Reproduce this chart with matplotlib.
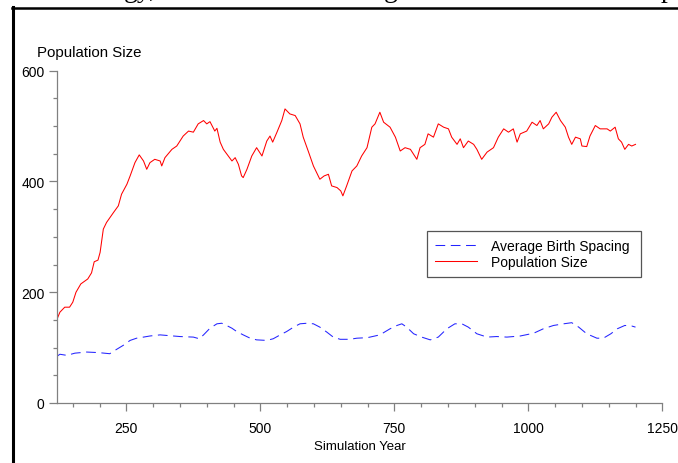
import matplotlib
matplotlib.use("Agg")
import matplotlib.pyplot as plt
from matplotlib.lines import Line2D
from matplotlib.ticker import MultipleLocator

# ---------------- data ----------------
red_years = [120, 126, 135, 144, 150, 156, 165, 178, 185, 190,
             197, 201, 207, 213, 226, 235, 241, 251, 257, 266,
             274, 282, 288, 294, 303, 313, 316, 322, 335, 344,
             356, 366, 375, 384, 394, 400, 406, 415, 419, 425,
             431, 440, 447, 453, 459, 465, 468, 475, 484, 493,
             503, 512, 518, 523, 531, 540, 546, 555, 565, 574,
             580, 590, 599, 611, 619, 627, 633, 643, 650, 654,
             661, 671, 680, 689, 699, 708, 714, 723, 730, 742,
             752, 761, 770, 780, 792, 798, 807, 813, 823, 832,
             842, 851, 857, 867, 873, 879, 888, 898, 904, 913,
             923, 935, 944, 954, 963, 972, 979, 985, 997, 1007,
             1016, 1022, 1028, 1038, 1044, 1052, 1060, 1069, 1075, 1081,
             1088, 1097, 1100, 1109, 1115, 1125, 1134, 1147, 1153, 1162,
             1168, 1174, 1180, 1187, 1193, 1200]
population_size = [150, 164, 173, 173, 182, 200, 215, 224, 235, 255,
                   258, 272, 314, 326, 344, 356, 377, 395, 410, 434,
                   448, 437, 422, 434, 440, 437, 428, 443, 458, 464,
                   482, 491, 489, 504, 510, 504, 508, 491, 496, 471,
                   458, 446, 437, 443, 431, 410, 407, 422, 446, 461,
                   446, 473, 482, 471, 489, 510, 531, 522, 519, 504,
                   480, 453, 428, 404, 410, 413, 392, 389, 383, 374,
                   392, 419, 428, 446, 461, 498, 504, 525, 507, 498,
                   480, 455, 461, 458, 440, 461, 467, 486, 480, 504,
                   498, 495, 480, 467, 477, 461, 473, 467, 458, 440,
                   453, 461, 480, 495, 489, 495, 471, 486, 491, 507,
                   501, 510, 495, 504, 516, 525, 510, 498, 480, 467,
                   480, 477, 464, 463, 482, 501, 495, 495, 491, 498,
                   477, 471, 458, 467, 464, 467]

blue_years = [120, 126, 139, 154, 176, 198, 219, 232, 244, 257,
              269, 282, 294, 313, 325, 350, 375, 386, 394, 406,
              419, 428, 437, 447, 456, 468, 481, 493, 512, 524,
              537, 549, 562, 574, 587, 599, 611, 624, 636, 649,
              667, 680, 700, 723, 742, 755, 764, 773, 786, 801,
              817, 832, 848, 863, 876, 888, 904, 923, 941, 960,
              985, 1010, 1028, 1047, 1066, 1081, 1094, 1109, 1128, 1140,
              1154, 1166, 1180, 1193, 1200]
birth_spacing = [84, 88, 86, 90, 92, 91, 89, 97, 104, 113,
                 117, 119, 121, 123, 122, 120, 119, 116, 123, 135,
                 143, 144, 140, 135, 129, 123, 117, 114, 113, 116,
                 123, 129, 137, 143, 144, 143, 137, 128, 119, 115,
                 115, 117, 118, 123, 134, 140, 143, 137, 125, 119,
                 114, 119, 134, 143, 143, 137, 125, 119, 120, 119,
                 121, 126, 134, 140, 143, 145, 137, 125, 117, 117,
                 125, 134, 140, 139, 137]

x_ticks = [250, 500, 750, 1000, 1250]
y_ticks = [0, 200, 400, 600]

# ---------------- figure ----------------
plt.rcParams['font.family'] = ['Liberation Sans', 'DejaVu Sans']
plt.rcParams['lines.scale_dashes'] = False

W, H = 678, 464
fig = plt.figure(figsize=(W / 100, H / 100), dpi=100)
ax = fig.add_axes([56.7 / W, 1 - 404 / H, (662.3 - 56.7) / W, (404 - 71.7) / H])

ax.plot(blue_years, birth_spacing, color='#2424ff', lw=0.75, dashes=(7, 4),
        label='Average Birth Spacing')
ax.plot(red_years, population_size, color='#ff0000', lw=0.75,
        label='Population Size')

ax.set_xlim(120, 1250)
ax.set_ylim(0, 600)
ax.set_xticks(x_ticks)
ax.set_yticks(y_ticks)
ax.xaxis.set_minor_locator(MultipleLocator(50))
ax.yaxis.set_minor_locator(MultipleLocator(50))

for s in ['top', 'right']:
    ax.spines[s].set_visible(False)
for s in ['left', 'bottom']:
    ax.spines[s].set_color('#808080')
    ax.spines[s].set_linewidth(0.9)

ax.tick_params(which='major', length=5.8, width=0.9, color='#808080',
               labelsize=10, labelcolor='black')
ax.tick_params(which='minor', length=3.0, width=0.9, color='#808080')
ax.tick_params(axis='x', which='major', pad=7.0)
ax.tick_params(axis='y', which='major', pad=3.0)

ax.set_xlabel('Simulation Year', fontsize=9.5)
ax.xaxis.set_label_coords(0.5, (404 - 441) / (404 - 71.7))

fig.text(37 / W, 1 - 57 / H, 'Population Size', fontsize=10.8,
         ha='left', va='baseline')

leg = ax.legend(loc='upper left',
                bbox_to_anchor=(426.7 / W, 1 - 276.7 / H, 214 / W, 44.7 / H),
                bbox_transform=fig.transFigure, mode='expand',
                borderaxespad=0, fontsize=10, frameon=True, fancybox=False,
                framealpha=1, edgecolor='#555555', handlelength=3.0,
                handletextpad=1.0, borderpad=0.6, labelspacing=0.1)
leg.get_frame().set_linewidth(0.9)

# page border lines of the scanned document
fig.add_artist(Line2D([12.5 / W, 12.5 / W], [0, 1 - 8 / H],
                      transform=fig.transFigure, color='black', lw=2.2))
fig.add_artist(Line2D([11.5 / W, 1], [1 - 8.5 / H, 1 - 8.5 / H],
                      transform=fig.transFigure, color='black', lw=1.8))

# clipped text of the page line above the chart
for txt, xp in [('gy,', 124), ('g', 384), ('p', 661)]:
    fig.text(xp / W, 1 + 3 / H, txt, family='Liberation Serif', fontsize=20,
             ha='left', va='baseline')

fig.savefig('out.png', dpi=100)
